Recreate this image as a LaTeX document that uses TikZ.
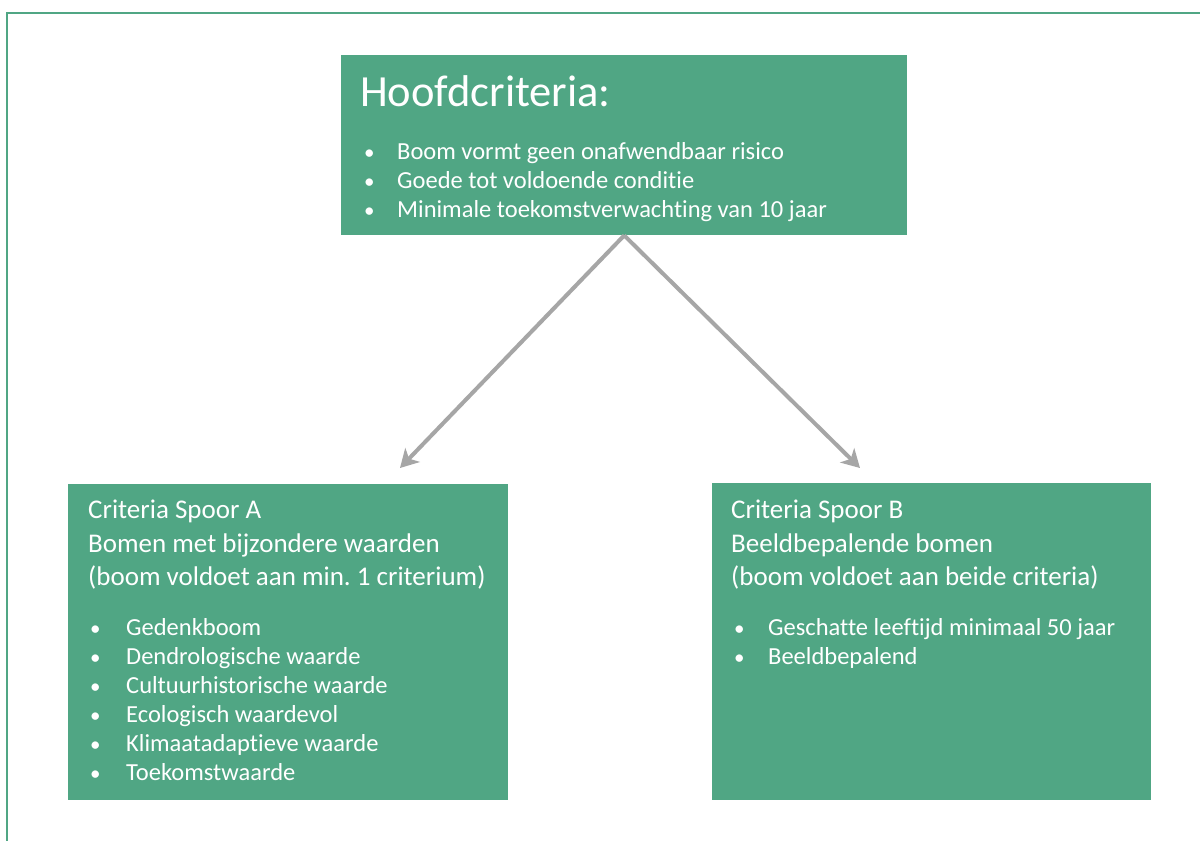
\documentclass[tikz,border=0pt]{standalone}
\usepackage{fontspec}
\setmainfont{Carlito}[Ligatures={NoCommon}]
\usetikzlibrary{arrows.meta}
\definecolor{boxgreen}{RGB}{80,166,132}
\definecolor{arrowgray}{RGB}{166,166,166}
\frenchspacing
\begin{document}
\begin{tikzpicture}[x=1pt,y=-1pt,
  box/.style={fill=boxgreen, draw=none, inner sep=0, anchor=north west},
  txt/.style={text=white, anchor=base west, inner sep=0},
  title/.style={txt, font=\fontsize{44.5}{50}\selectfont},
  head/.style={txt, font=\fontsize{27}{33}\selectfont},
  item/.style={txt, font=\fontsize{24.5}{29}\selectfont},
  dot/.style={txt, font=\fontsize{21}{29}\selectfont},
  conn/.style={draw=arrowgray, line width=4pt, -{Stealth[length=18pt,width=20pt,inset=5pt]}},
  frame/.style={draw=boxgreen, line width=2pt}]
\useasboundingbox (0,0) rectangle (1200,841);
\fill[white] (0,0) rectangle (1200,841);
\draw[frame] (1201,13) -- (7,13) -- (7,842);

% boxes
\node[box, minimum width=566pt, minimum height=180pt] (main) at (341,55) {};
\node[box, minimum width=440pt, minimum height=316pt] (spoorA) at (68,484) {};
\node[box, minimum width=439pt, minimum height=317pt] (spoorB) at (712,483) {};

% main box text
\node[title] (mtitle) at (360,106) {Hoofdcriteria:};
\foreach \t [count=\i] in {Boom vormt geen onafwendbaar risico,Goede tot voldoende conditie,Minimale toekomstverwachting van 10 jaar}{
  \node[dot] (mb\i) at (364,130+29*\i) {•};
  \node[item] (mt\i) at (397,130+29*\i) {\t};
}

% spoor A text
\node[head] (ah1) at (88,518) {Criteria Spoor A};
\node[head] (ah2) at (88,552) {Bomen met bijzondere waarden};
\node[head] (ah3) at (88,585) {(boom voldoet aan min. 1 criterium)};
\foreach \t [count=\i] in {Gedenkboom,Dendrologische waarde,Cultuurhistorische waarde,Ecologisch waardevol,Klimaatadaptieve waarde,Toekomstwaarde}{
  \node[dot] (ab\i) at (90,606+29*\i) {•};
  \node[item] (at\i) at (126,606+29*\i) {\t};
}

% spoor B text
\node[head] (bh1) at (731,518) {Criteria Spoor B};
\node[head] (bh2) at (731,552) {Beeldbepalende bomen};
\node[head] (bh3) at (731,585) {(boom voldoet aan beide criteria)};
\foreach \t [count=\i] in {Geschatte leeftijd minimaal 50 jaar,Beeldbepalend}{
  \node[dot] (bb\i) at (734,606+29*\i) {•};
  \node[item] (bt\i) at (768,606+29*\i) {\t};
}

% connectors
\coordinate (tipA) at (400,468);
\coordinate (tipB) at (860,468);
\draw[conn] (main.south) -- (tipA);
\draw[conn] (main.south) -- (tipB);
\end{tikzpicture}
\end{document}
